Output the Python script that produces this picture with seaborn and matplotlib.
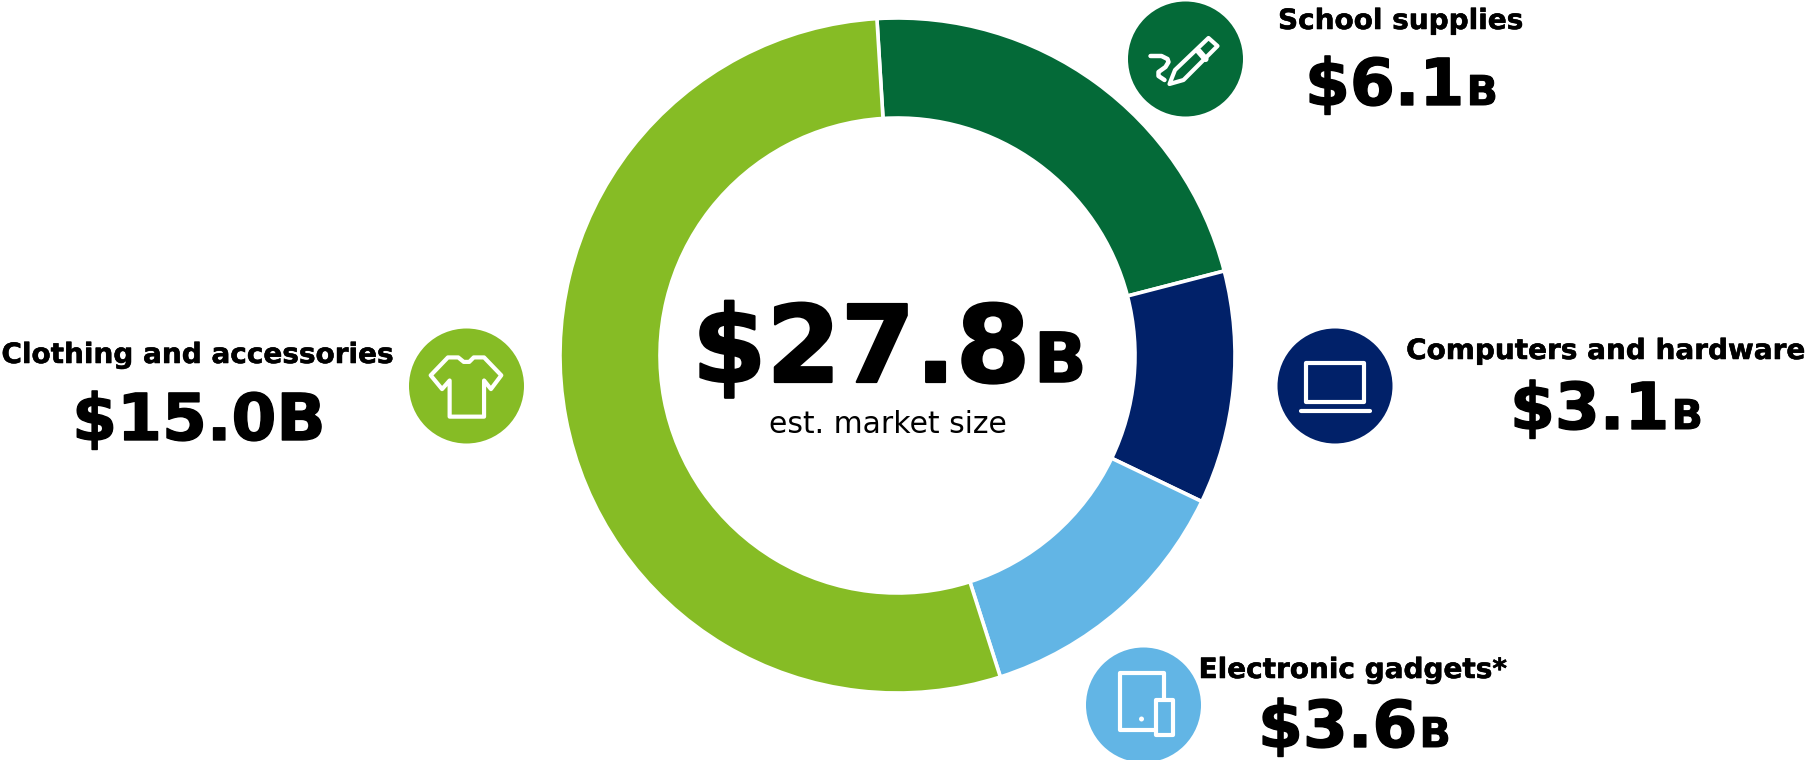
import matplotlib
matplotlib.use('Agg')
import matplotlib.pyplot as plt
import matplotlib.patheffects as pe
import seaborn as sns
from matplotlib.patches import Circle, Polygon

categories = ['School supplies', 'Computers and hardware', 'Electronic gadgets*', 'Clothing and accessories']
values = [6.1, 3.1, 3.6, 15.0]
total = 27.8
colors = ['#046A38', '#012169', '#62B5E5', '#86BC25']

W, H = 1809, 760

sns.set_theme(style='white')
palette = sns.color_palette(colors)

fig = plt.figure(figsize=(W / 100, H / 100), dpi=100)
ax = fig.add_axes([0, 0, 1, 1])


def Y(py):
    # reference is measured from the top
    return H - py


ax.pie(values, colors=palette, startangle=93.5, counterclock=False, center=(897.5, Y(355.5)), radius=337.5,
       wedgeprops={'width': 100, 'edgecolor': 'white', 'linewidth': 2.6})
ax.set_xlim(0, W)
ax.set_ylim(0, H)
ax.set_aspect('equal')
ax.axis('off')


def heavy(lw):
    return [pe.withStroke(linewidth=lw, foreground='black')]


def money(x, base, num, unit, size, unit_size, gap=2, lw=1.0):
    # number and small unit share one baseline
    t = ax.text(x, Y(base), num, fontsize=size, fontweight='bold', color='black', ha='left', va='baseline',
                path_effects=heavy(lw))
    r = fig.canvas.get_renderer()
    w = t.get_window_extent(r).width
    ax.text(x + w + gap, Y(base), unit, fontsize=unit_size, fontweight='bold', color='black', ha='left',
            va='baseline', path_effects=heavy(lw * 0.7))


# labels
label_pos = [(1401, 29), (1606, 359), (1353, 678), (198, 363)]
for cat, (lx, ly) in zip(categories, label_pos):
    ax.text(lx, Y(ly), cat, fontsize=20.1, fontweight='bold', color='black', ha='center', va='baseline',
            path_effects=heavy(0.4))

money(1305, 105, f'${values[0]}', 'B', 46.5, 29.5, gap=2)
money(1510, 429, f'${values[1]}', 'B', 46.5, 29.5, gap=2)
money(1258, 747, f'${values[2]}', 'B', 46.5, 29.5, gap=2)
ax.text(199, Y(440), f'${values[3]}B', fontsize=46.5, fontweight='bold', color='black', ha='center', va='baseline',
        path_effects=heavy(1.0))

money(692, 382, f'${total}', 'B', 77, 49.5, gap=4, lw=1.6)
ax.text(888, Y(433), 'est. market size', fontsize=21.4, color='black', ha='center', va='baseline')

# icon circles
centers = [(1185.5, 59), (1335, 386), (1143.5, 705), (466.5, 386)]
for (cx, cy), c in zip(centers, palette):
    ax.add_patch(Circle((cx, Y(cy)), 57.5, fc=c, ec='none'))

icon = {'fc': 'none', 'ec': 'white', 'lw': 3, 'joinstyle': 'round'}


def pts(c, rel, k=1.0):
    return [(c[0] + x * k, Y(c[1] + y * k)) for x, y in rel]


# pen
c = centers[0]
pen = [(-16, 25), (-10.5, 11), (23, -21), (32, -13), (-2, 21)]
ax.add_patch(Polygon(pts(c, pen), closed=True, **icon))
x, y = zip(*pts(c, [(13, -8), (20, 0)]))
ax.plot(x, y, color='white', lw=4.5)
squiggle = [(-35, -3), (-24, -3), (-18, 0), (-17, 3), (-20, 8), (-27, 13), (-27, 17), (-21, 21)]
x, y = zip(*pts(c, squiggle))
ax.plot(x, y, color='white', lw=3.2, solid_capstyle='round', solid_joinstyle='round')

# laptop
c = centers[1]
ax.add_patch(Polygon(pts(c, [(-29, -23), (29, -23), (29, 16), (-29, 16)]), closed=True, **icon))
x, y = zip(*pts(c, [(-34, 25), (35, 25)]))
ax.plot(x, y, color='white', lw=3, solid_capstyle='round')

# tablet and phone
c = centers[2]
ax.add_patch(Polygon(pts(c, [(-24, -32), (20, -32), (20, 25), (-24, 25)]), closed=True, **icon))
ax.add_patch(Polygon(pts(c, [(12, -5), (29, -5), (29, 30), (12, 30)]), closed=True, fc=palette[2], ec='white', lw=3, joinstyle='round'))
ax.add_patch(Circle((c[0] - 2, Y(c[1] + 14)), 2.5, fc='white', ec='none'))

# shirt
c = centers[3]
shirt = [(-54, -83), (-104, -31), (-71, 9), (-49, -16), (-49, 89), (51, 89), (51, -16), (71, 9), (101, -31),
         (51, -83), (21, -83), (8, -70), (-8, -70), (-24, -83)]
ax.add_patch(Polygon(pts(c, shirt, 1 / 2.904), closed=True, **icon))

fig.savefig('out.png', dpi=100)
